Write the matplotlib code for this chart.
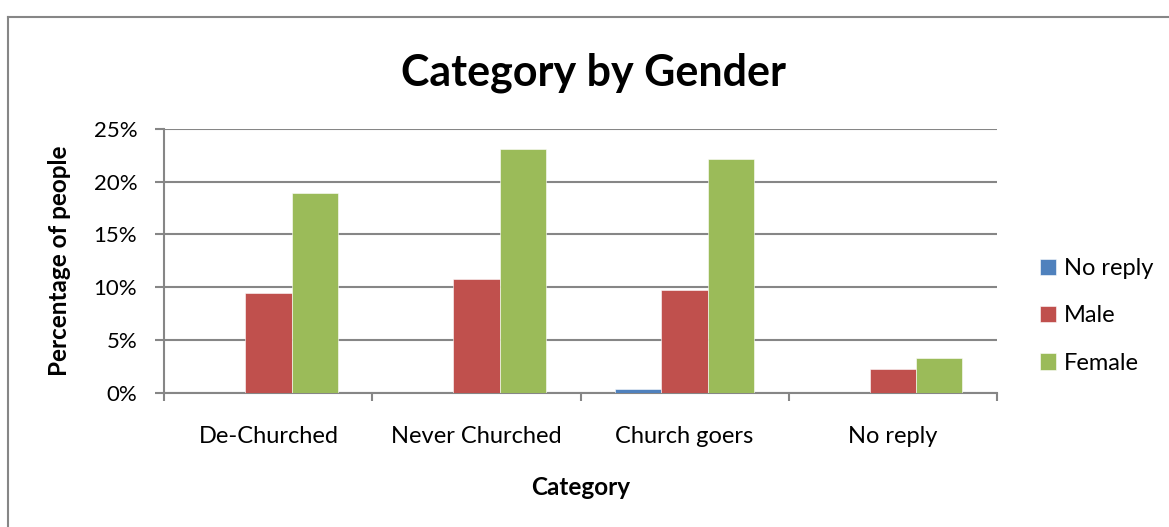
import numpy as np
import matplotlib
matplotlib.use("Agg")
import matplotlib.pyplot as plt
from matplotlib.lines import Line2D
from matplotlib.ticker import FuncFormatter

plt.rcParams['font.family'] = ['Lato', 'DejaVu Sans']

categories = ["De-Churched", "Never Churched", "Church goers", "No reply"]
series_names = ["No reply", "Male", "Female"]
no_reply = [0.0, 0.0, 0.35, 0.0]
male = [9.42, 10.75, 9.73, 2.25]
female = [18.9, 23.1, 22.15, 3.26]
colors = ["#4F81BD", "#C0504D", "#9BBB59"]
grey = "#868686"

fig = plt.figure(figsize=(11.69, 5.27), dpi=100)
ax = fig.add_axes([0.1406, 0.2548, 0.712, 0.5004])

x = np.arange(len(categories)) + 0.5
w = 1 / 4.5
for i, (vals, name) in enumerate(zip([no_reply, male, female], series_names)):
    ax.bar(x + (i - 1) * w, vals, width=w, color=colors[i], label=name,
           edgecolor="white", linewidth=0.4, zorder=3)

ax.set_xlim(0, len(categories))
ax.set_ylim(0, 25)
ax.set_yticks(np.arange(0, 26, 5))
ax.yaxis.set_major_formatter(FuncFormatter(lambda v, p: f"{v:.0f}%"))
ax.set_xticks(np.arange(0, len(categories) + 1))
ax.set_xticklabels([])
ax.set_xticks(x, minor=True)
ax.set_xticklabels(categories, minor=True)
ax.tick_params(axis="x", which="minor", length=0, pad=24, labelsize=17)
ax.tick_params(axis="x", which="major", length=6, color=grey, width=1.5, direction="out")
ax.tick_params(axis="y", length=6.5, color=grey, width=1.5, labelsize=16, pad=13)

ax.grid(axis="y", color=grey, linewidth=1.5, zorder=0)
for s in ["top", "right"]:
    ax.spines[s].set_visible(False)
for s in ["left", "bottom"]:
    ax.spines[s].set_color(grey)
    ax.spines[s].set_linewidth(1.5)

ax.set_xlabel("Category", fontsize=17.5, fontweight="bold", labelpad=21)
ax.set_ylabel("Percentage of people", fontsize=17.5, fontweight="bold", labelpad=16)
fig.text(0.508, 0.862, "Category by Gender", ha="center", va="center",
         fontsize=31, fontweight="bold")

ax.legend(loc="center left", bbox_to_anchor=(1.026, 0.291), frameon=False,
          fontsize=17, handlelength=0.7, handleheight=0.7, handletextpad=0.35,
          labelspacing=1.12)

# chart frame (top and left edges)
fig.add_artist(Line2D([8 / 1169, 1.0], [1 - 17 / 527] * 2, color=grey, lw=1.5))
fig.add_artist(Line2D([8 / 1169] * 2, [0, 1 - 17 / 527], color=grey, lw=1.5))

fig.savefig("out.png", dpi=100)
